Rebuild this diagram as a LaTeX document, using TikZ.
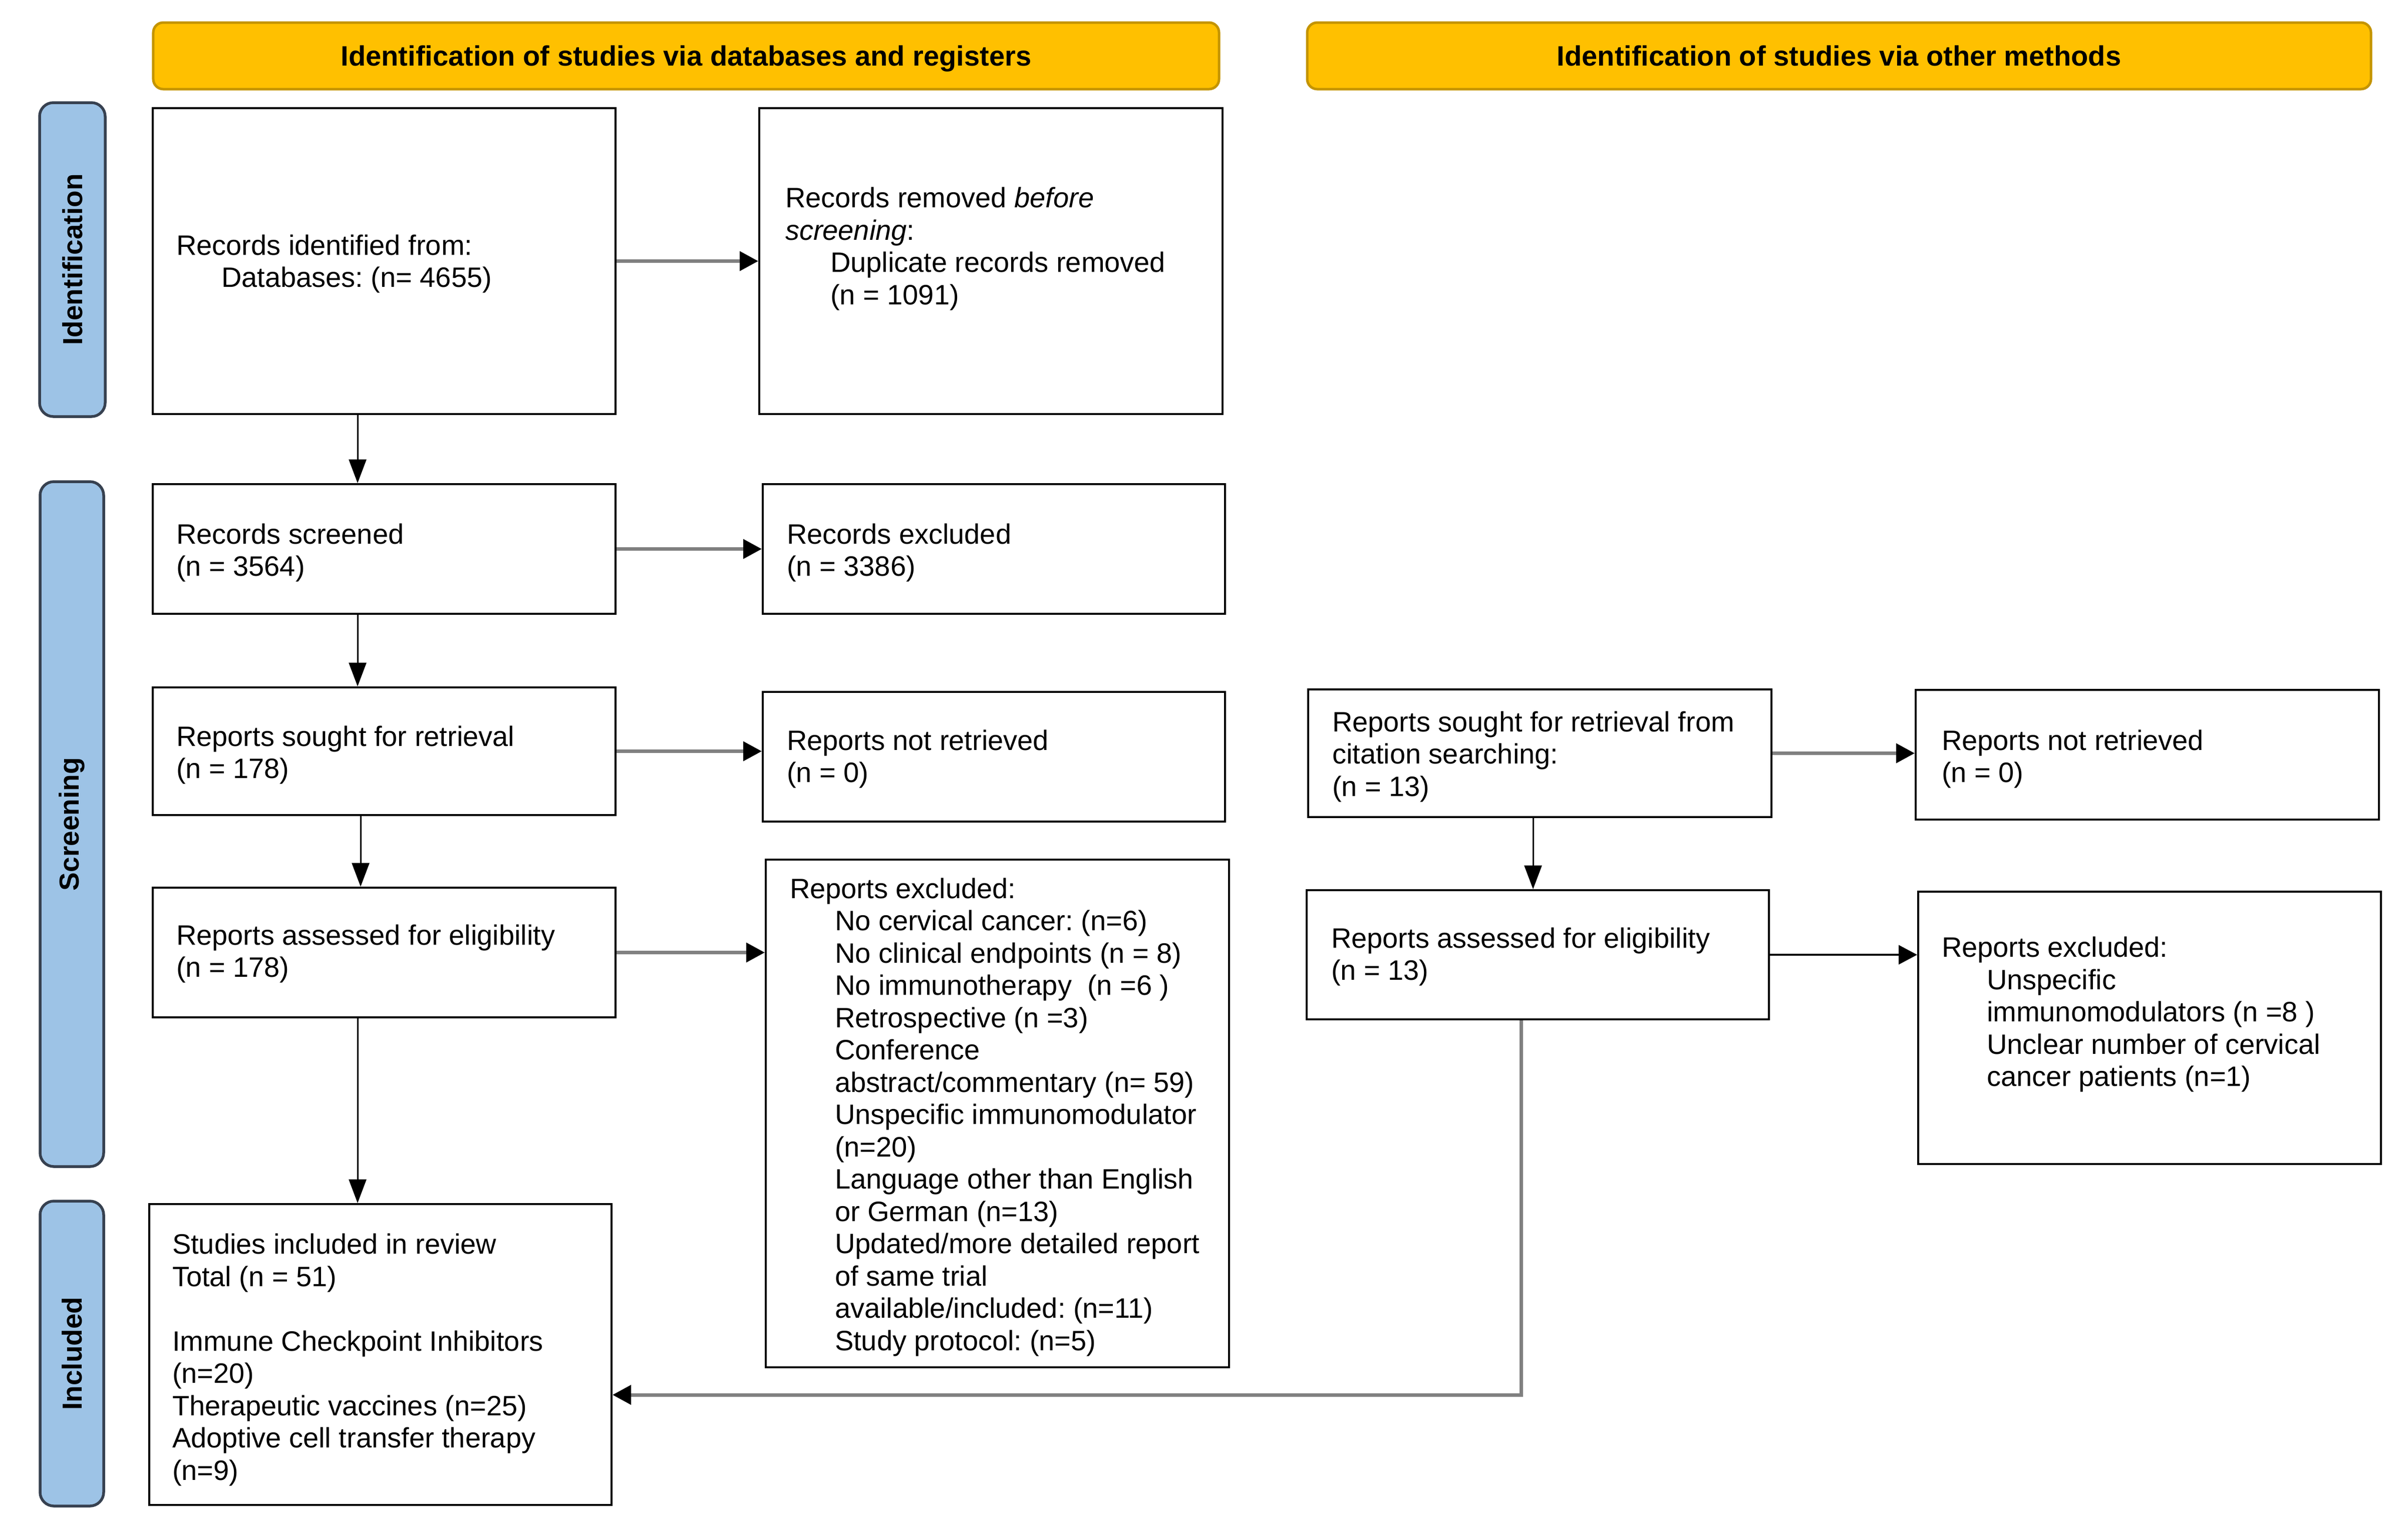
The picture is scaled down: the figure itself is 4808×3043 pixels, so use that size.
\documentclass[tikz,border=0pt]{standalone}
\usepackage{fontspec}
\setmainfont{Liberation Sans}
\usetikzlibrary{arrows.meta,calc}
\definecolor{hdrfill}{RGB}{255,192,0}
\definecolor{hdrline}{RGB}{196,148,0}
\definecolor{barfill}{RGB}{157,195,230}
\definecolor{barline}{RGB}{55,65,80}
\definecolor{linegray}{RGB}{128,128,128}
\newcommand{\myind}{\hspace*{18pt}}
\frenchspacing
\begin{document}
\begin{tikzpicture}[x=0.2pt,y=-0.2pt,
  box/.style={draw=black,line width=0.8pt,rectangle,inner sep=0pt,anchor=north west},
  txt/.style={inner sep=0pt,anchor=west,align=left,font=\fontsize{11.2}{12.9}\selectfont},
  hdr/.style={draw=hdrline,fill=hdrfill,line width=1pt,rounded corners=4pt,inner sep=0pt,text height=8pt,text depth=0pt,font=\fontsize{11.2}{12.9}\selectfont\bfseries},
  phase/.style={draw=barline,fill=barfill,line width=1.1pt,rounded corners=5.5pt,inner sep=0pt,font=\fontsize{11}{12}\selectfont\bfseries},
  garrow/.style={draw=linegray,line width=1.4pt,-{Triangle[length=7.4pt,width=7.6pt,color=black]}},
  barrow/.style={draw=black,line width=0.6pt,-{Triangle[length=9.5pt,width=7pt]}},
  karrow/.style={draw=black,line width=0.9pt,-{Triangle[length=7.4pt,width=7.6pt]}}
]
\useasboundingbox (0,0) rectangle (4808,3043);
\fill[white] (0,0) rectangle (4808,3043);

% headers
\node[hdr,minimum width=425.6pt,minimum height=26.6pt] (h1) at (1370,111.5) {Identification of studies via databases and registers};
\node[hdr,minimum width=424.8pt,minimum height=26.6pt] (h2) at (3672,111.5) {Identification of studies via other methods};

% phase bars
\node[phase,rotate=90,minimum width=125.4pt,minimum height=26.2pt] (p1) at (144.5,518.5) {Identification};
\node[phase,rotate=90,minimum width=273.6pt,minimum height=25.4pt] (p2) at (143.5,1646) {Screening};
\node[phase,rotate=90,minimum width=121.8pt,minimum height=25.4pt] (p3) at (143.5,2703.5) {Included};

% boxes
\node[box,minimum width=184.8pt,minimum height=122.2pt] (b1) at (303,214) {};
\node[box,minimum width=185pt,minimum height=122.2pt] (b2) at (1514,214) {};
\node[box,minimum width=184.8pt,minimum height=51.8pt] (b3) at (303,965) {};
\node[box,minimum width=184.6pt,minimum height=51.8pt] (b4) at (1521,965) {};
\node[box,minimum width=184.8pt,minimum height=51pt] (b5) at (303,1371) {};
\node[box,minimum width=184.6pt,minimum height=51.8pt] (b6) at (1521,1380) {};
\node[box,minimum width=184.8pt,minimum height=51.8pt] (b7) at (303,1771) {};
\node[box,minimum width=185pt,minimum height=202.8pt] (b8) at (1527,1715) {};
\node[box,minimum width=184.6pt,minimum height=120.2pt] (b9) at (296,2403) {};
\node[box,minimum width=185pt,minimum height=51pt] (b10) at (2610,1375) {};
\node[box,minimum width=185pt,minimum height=51.8pt] (b11) at (3823,1376) {};
\node[box,minimum width=184.6pt,minimum height=51.6pt] (b12) at (2607,1776) {};
\node[box,minimum width=184.8pt,minimum height=108.8pt] (b13) at (3828,1779) {};

% texts
\node[txt] (t1) at (351,527) {Records identified from:\\\myind Databases: (n= 4655)};
\node[txt] (t2) at (1567,497) {Records removed \textit{before}\\\textit{screening}:\\\myind Duplicate records removed\\\myind (n = 1091)};
\node[txt] (t3) at (351,1104) {Records screened\\(n = 3564)};
\node[txt] (t4) at (1570,1104) {Records excluded\\(n = 3386)};
\node[txt] (t5) at (351,1508) {Reports sought for retrieval\\(n = 178)};
\node[txt] (t6) at (1570,1516) {Reports not retrieved\\(n = 0)};
\node[txt] (t7) at (351,1905) {Reports assessed for eligibility\\(n = 178)};
\node[txt] (t8) at (1576,2231) {Reports excluded:\\
\myind No cervical cancer: (n=6)\\
\myind No clinical endpoints (n = 8)\\
\myind No immunotherapy\ \ (n =6 )\\
\myind Retrospective (n =3)\\
\myind Conference\\
\myind abstract/commentary (n= 59)\\
\myind Unspecific immunomodulator\\
\myind (n=20)\\
\myind Language other than English\\
\myind or German (n=13)\\
\myind Updated/more detailed report\\
\myind of same trial\\
\myind available/included: (n=11)\\
\myind Study protocol: (n=5)};
\node[txt] (t9) at (343,2716) {Studies included in review\\Total (n = 51)\\[12.9pt]Immune Checkpoint Inhibitors\\(n=20)\\Therapeutic vaccines (n=25)\\Adoptive cell transfer therapy\\(n=9)};
\node[txt] (t10) at (2659,1511) {Reports sought for retrieval from\\citation searching:\\(n = 13)};
\node[txt] (t11) at (3876,1516) {Reports not retrieved\\(n = 0)};
\node[txt] (t12) at (2657,1911) {Reports assessed for eligibility\\(n = 13)};
\node[txt] (t13) at (3876,2026) {Reports excluded:\\
\myind Unspecific\\
\myind immunomodulators (n =8 )\\
\myind Unclear number of cervical\\
\myind cancer patients (n=1)};

% helper coordinates
\coordinate (xa) at (714,0);
\coordinate (xb) at (720,0);
\coordinate (xc) at (3061,0);
\coordinate (xg) at (3037,0);
\coordinate (yg) at (0,2786);

% horizontal arrows
\draw[garrow] (b1.east) -- (b2.west);
\draw[garrow] (b3.east) -- (b3.east -| b4.west);
\draw[garrow] (b5.east) -- (b5.east -| b6.west);
\draw[garrow] (b7.east) -- (b7.east -| b8.west);
\draw[garrow] (b10.east) -- (b10.east -| b11.west);
\draw[karrow] (b12.east) -- (b12.east -| b13.west);

% vertical arrows
\draw[barrow] (b1.south -| xa) -- (b3.north -| xa);
\draw[barrow] (b3.south -| xa) -- (b5.north -| xa);
\draw[barrow] (b5.south -| xb) -- (b7.north -| xb);
\draw[barrow] (b7.south -| xa) -- (b9.north -| xa);
\draw[barrow] (b10.south -| xc) -- (b12.north -| xc);
\draw[garrow] (b12.south -| xg) |- (b9.east |- yg);
\end{tikzpicture}
\end{document}
